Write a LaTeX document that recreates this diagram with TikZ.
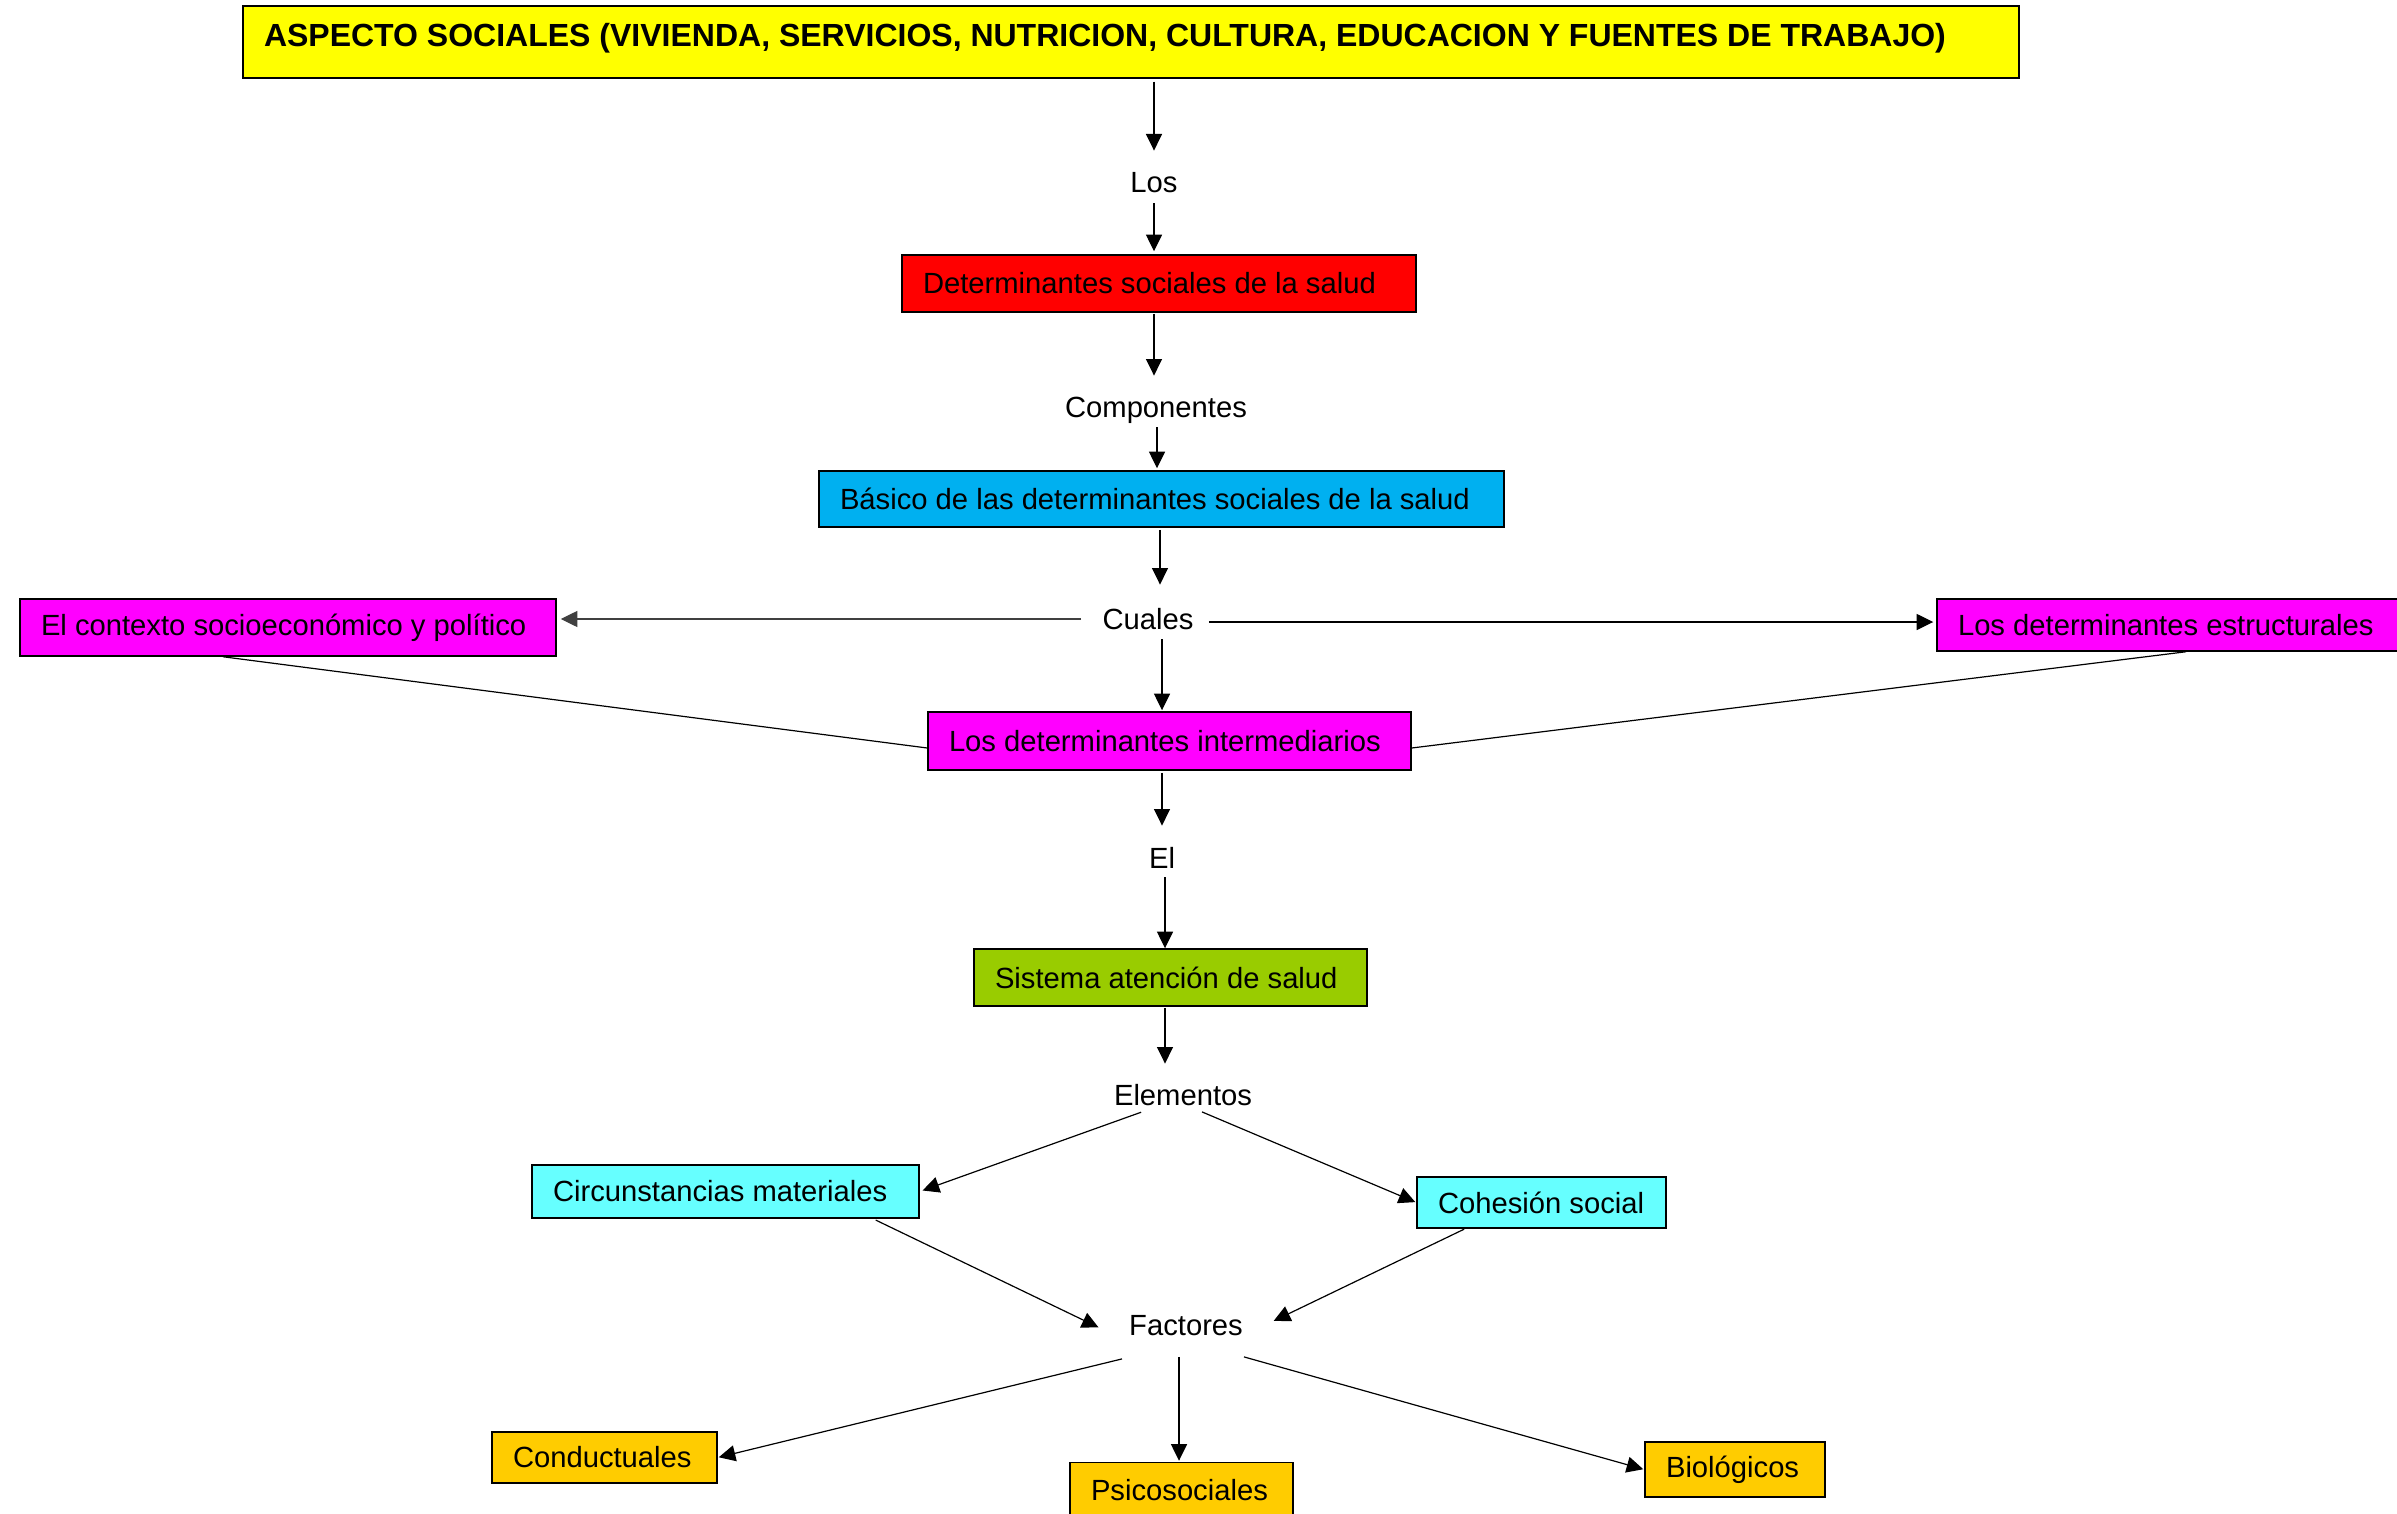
\documentclass[tikz,border=0pt]{standalone}
\usepackage{fontspec}
\setmainfont{Liberation Sans}
\usetikzlibrary{arrows.meta}
\newcommand\fsz{\fontsize{14.6}{17}\selectfont}
\newcommand\leftin[2]{\makebox[#1][l]{#2}}
\definecolor{cyel}{HTML}{FFFF00}
\definecolor{cred}{HTML}{FF0000}
\definecolor{cblue}{HTML}{00B0F0}
\definecolor{cmag}{HTML}{FF00FF}
\definecolor{cgreen}{HTML}{99CC00}
\definecolor{ccyan}{HTML}{66FFFF}
\definecolor{cgold}{HTML}{FFCC00}
\begin{document}
\begin{tikzpicture}[x=0.5pt,y=-0.5pt,
  box/.style={draw=black, line width=0.75pt, inner xsep=10.5pt, inner ysep=0pt, font=\fsz, anchor=center},
  lbl/.style={inner sep=0pt, font=\fsz, text height=10.5pt, text depth=3pt},
  arr/.style={-{Triangle[length=8.3pt,width=8pt]}, line width=0.6pt},
  ln/.style={line width=0.6pt}]
\useasboundingbox (0,0) rectangle (2397,1514);
\fill[white] (0,0) rectangle (2397,1514);

% boxes
\node[box, fill=cyel, minimum height=36pt, text height=11.5pt, text depth=7pt, font=\fontsize{16}{19}\selectfont\bfseries] (top) at (1131,42) {\leftin{867pt}{ASPECTO SOCIALES (VIVIENDA, SERVICIOS, NUTRICION, CULTURA, EDUCACION Y FUENTES DE TRABAJO)}};
\node[box, fill=cred, minimum height=28.5pt] (red) at (1159,283.5) {\leftin{236pt}{Determinantes sociales de la salud}};
\node[box, fill=cblue, minimum height=28pt] (blue) at (1161.5,499) {\leftin{321.5pt}{Básico de las determinantes sociales de la salud}};
\node[box, fill=cmag, minimum height=28.5pt] (left) at (288,627.5) {\leftin{247pt}{El contexto socioeconómico y político}};
\node[box, fill=cmag, minimum height=26pt] (right) at (2171,625) {\leftin{213pt}{Los determinantes estructurales}};
\node[box, fill=cmag, minimum height=29pt] (inter) at (1169.5,741) {\leftin{220.5pt}{Los determinantes intermediarios}};
\node[box, fill=cgreen, minimum height=28.5pt] (green) at (1170.5,977.5) {\leftin{175.5pt}{Sistema atención de salud}};
\node[box, fill=ccyan, minimum height=26.5pt] (circ) at (725.5,1191.5) {\leftin{172.5pt}{Circunstancias materiales}};
\node[box, fill=ccyan, minimum height=25.5pt] (coh) at (1541.5,1202.5) {\leftin{103.5pt}{Cohesión social}};
\node[box, fill=cgold, minimum height=25.5pt] (cond) at (604.5,1457.5) {\leftin{91.5pt}{Conductuales}};
\node[box, fill=cgold, minimum height=27.5pt] (psico) at (1181.5,1490) {\leftin{90.5pt}{Psicosociales}};
\node[box, fill=cgold, minimum height=27.5pt] (bio) at (1735,1469.5) {\leftin{69pt}{Biológicos}};

% labels
\node[lbl] (los) at (1154,185) {Los};
\node[lbl] (comp) at (1156,410) {Componentes};
\node[lbl] (cuales) at (1148,622) {Cuales};
\node[lbl] (el) at (1162,861) {El};
\node[lbl] (elem) at (1183,1098) {Elementos};
\node[lbl] (fact) at (1186,1328) {Factores};

% connectors
\draw[arr, shorten <=1.5pt, shorten >=10.25pt] (los.north |- top.south) -- (los.north);
\draw[arr, shorten <=2.25pt, shorten >=1.5pt] (los.south) -- (los.south |- red.north);
\draw[arr, shorten <=0.5pt, shorten >=10.25pt] (los.north |- red.south) -- (los.north |- comp.north);
\draw[arr, shorten <=1.75pt, shorten >=1pt] ([xshift=0.5pt]comp.south) -- ([xshift=0.5pt]comp.south |- blue.north);
\draw[arr, shorten <=1pt, shorten >=11.75pt] ([xshift=-0.75pt]blue.south) -- ([xshift=-0.75pt]blue.south |- cuales.north);
\draw[arr, draw=black!75, shorten <=10.5pt, shorten >=2pt] ([yshift=1.5pt]cuales.west) -- ([yshift=1.5pt]cuales.west -| left.east);
\draw[arr, shorten <=7.5pt, shorten >=1.5pt] (cuales.east) -- (cuales.east -| right.west);
\draw[arr, shorten <=1.75pt, shorten >=0.5pt] ([xshift=7pt]cuales.south) -- ([xshift=7pt]cuales.south |- inter.north);
\draw[ln] ([xshift=-32.5pt]left.south) -- ([yshift=-3.5pt]inter.west);
\draw[ln] ([xshift=7.5pt]right.south) -- ([yshift=-3.5pt]inter.east);
\draw[arr, shorten <=1pt, shorten >=10.75pt] (el.north |- inter.south) -- (el.north);
\draw[arr, shorten <=1.25pt] ([xshift=1.5pt]el.south) -- ([xshift=1.5pt]el.south |- green.north);
\draw[arr, shorten <=0.5pt, shorten >=10.25pt] ([xshift=-2.75pt]green.south) -- ([xshift=-2.75pt]green.south |- elem.north);
\draw[arr, shorten <=0.5pt, shorten >=1.5pt] ([xshift=-20.5pt]elem.south) -- (circ.east);
\draw[arr, shorten <=0pt, shorten >=0.5pt] ([xshift=9.5pt]elem.south) -- (coh.west);
\draw[arr, shorten <=1.5pt, shorten >=16.8pt] ([xshift=73.75pt]circ.south) -- ([yshift=-7pt]fact.west);
\draw[arr, shorten <=0.5pt, shorten >=16.9pt] ([xshift=-38.25pt]coh.south) -- ([yshift=-3.8pt]fact.east);
\draw[arr, shorten >=0.5pt] ([xshift=-32pt,yshift=-8.5pt]fact.south) -- (cond.east);
\draw[arr, shorten >=0.5pt] ([xshift=-3.5pt,yshift=-7.5pt]fact.south) -- ([xshift=-3.5pt]fact.south |- psico.north);
\draw[arr, shorten >=0.5pt] ([xshift=29pt,yshift=-7.5pt]fact.south) -- (bio.west);
\end{tikzpicture}
\end{document}
